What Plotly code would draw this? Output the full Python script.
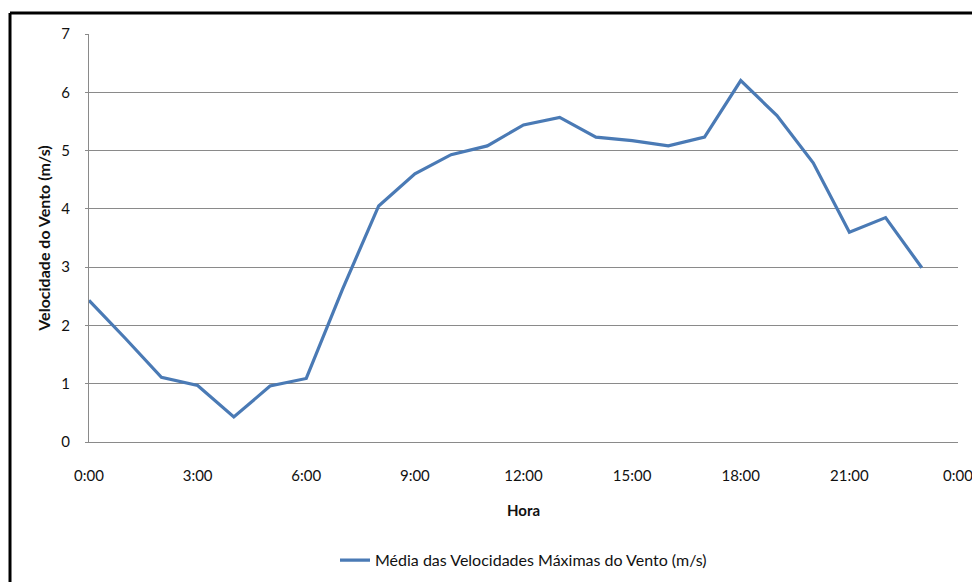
import plotly.graph_objects as go

hours = list(range(24))
vento = [2.43, 1.78, 1.11, 0.97, 0.43, 0.96, 1.09, 2.62, 4.05, 4.60, 4.93, 5.08,
         5.44, 5.57, 5.23, 5.17, 5.08, 5.23, 6.20, 5.60, 4.79, 3.60, 3.85, 2.99]
tick_vals = [0, 3, 6, 9, 12, 15, 18, 21, 24]
tick_text = ["0:00", "3:00", "6:00", "9:00", "12:00", "15:00", "18:00", "21:00", "0:00"]
series_name = "Média das Velocidades Máximas do Vento (m/s)"

FONT = "Lato"
GRID = "#8a8a8a"

fig = go.Figure()
fig.add_trace(go.Scatter(
    x=hours, y=vento, mode="lines", name=series_name,
    line=dict(color="#4a7ab5", width=3.2),
    showlegend=True,
))

# page body has an 8px default margin, so the figure is sized 972x574
fig.update_layout(
    width=972, height=574,
    margin=dict(l=81, r=22, t=26, b=140, autoexpand=False),
    paper_bgcolor="white", plot_bgcolor="white",
    font=dict(family=FONT, size=13, color="#111"),
    showlegend=True,
    legend=dict(orientation="h", x=0.5, xanchor="center", yref="container", y=0.038, yanchor="middle",
                font=dict(family=FONT, size=16, color="#111"), itemwidth=30),
    xaxis=dict(
        range=[0, 24], tickvals=tick_vals, ticktext=tick_text, automargin=False,
        showgrid=False, zeroline=False, showline=True, linecolor=GRID, linewidth=1,
        ticks="", ticklabelstandoff=20,
        tickfont=dict(family=FONT, size=15, color="#111"),
        title=dict(text="<b>Hora</b>", font=dict(family=FONT, size=15, color="#111"), standoff=22),
    ),
    yaxis=dict(
        range=[0, 7], tickvals=[0, 1, 2, 3, 4, 5, 6, 7], automargin=False,
        showgrid=True, gridcolor=GRID, gridwidth=1, zeroline=False,
        showline=True, linecolor=GRID, linewidth=1,
        ticks="outside", ticklen=3, tickcolor=GRID, ticklabelstandoff=12,
        tickfont=dict(family=FONT, size=15, color="#111"),
        title=dict(text="<b>Velocidade do Vento (m/s)</b>", font=dict(family=FONT, size=16, color="#111"), standoff=6),
    ),
)

# outer frame (top and left black border)
fig.add_shape(type="line", xref="paper", yref="paper", x0=-0.0909, x1=1.03, y0=1.0515, y1=1.0515,
              line=dict(color="black", width=3))
fig.add_shape(type="line", xref="paper", yref="paper", x0=-0.0909, x1=-0.0909, y0=1.0515, y1=-0.36,
              line=dict(color="black", width=3))

fig.write_html("out.html")
